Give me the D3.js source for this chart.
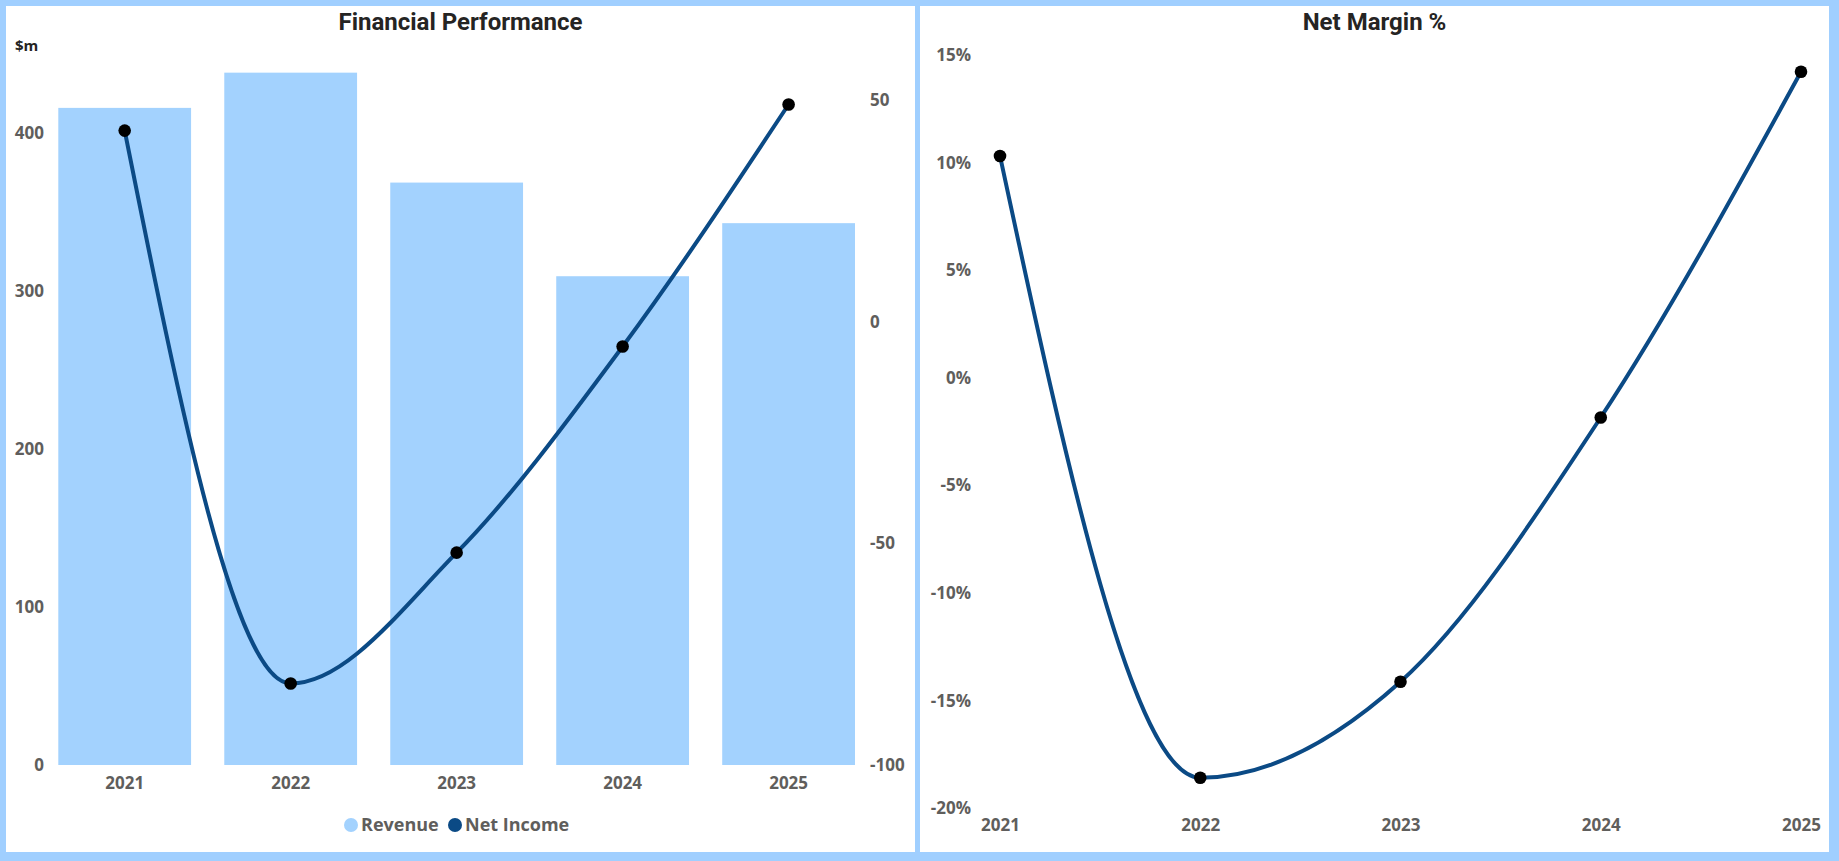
<!DOCTYPE html>
<html><head><meta charset="utf-8">
<script src="https://cdn.jsdelivr.net/npm/d3@7"></script>
<style>body{margin:0;background:#A0CFFF;} svg{display:block}</style>
</head><body><svg id="c" width="1839" height="861"></svg>
<script>
const years = ["2021", "2022", "2023", "2024", "2025"];
const revenue = [416.1, 438.4, 368.8, 309.5, 343.1];
const netIncome = [43.1, -81.6, -52.1, -5.6, 49.0];
const netMargin = [10.31, -18.58, -14.12, -1.84, 14.22];
const revenueTicks = [0, 100, 200, 300, 400];
const incomeTicks = [-100, -50, 0, 50];
const marginTicks = [-20, -15, -10, -5, 0, 5, 10, 15];
const legendNames = ["Revenue", "Net Income"];
const titles = ["Financial Performance", "Net Margin %"];

const barColor = "#A3D2FE", lineColor = "#0B4A85", dotColor = "#000000";
const tickColor = "#5F5E5C", titleColor = "#252423", frameColor = "#A0CFFF";
const tickFont = "'Open Sans', sans-serif";
const hyphen = v => String(v).replace("\u2212", "-");

const svg = d3.select("#c");
svg.append("rect").attr("width", 1839).attr("height", 861).attr("fill", frameColor);
svg.append("rect").attr("x", 6).attr("y", 6).attr("width", 909).attr("height", 846).attr("fill", "#fff");
svg.append("rect").attr("x", 920).attr("y", 6).attr("width", 909).attr("height", 846).attr("fill", "#fff");

function styleTicks(sel) {
  sel.select(".domain").remove();
  sel.selectAll(".tick line").remove();
  sel.selectAll(".tick text").attr("fill", tickColor).attr("font-family", tickFont)
    .attr("font-weight", 700).attr("font-size", 17);
}

// ---------- Left chart ----------
const L = svg.append("g");
L.append("text").text(titles[0]).attr("x", 460.5).attr("y", 30).attr("text-anchor", "middle")
  .attr("font-family", "Roboto, sans-serif").attr("font-weight", 700).attr("font-size", 24).attr("fill", titleColor);
L.append("text").text("$m").attr("x", 15).attr("y", 51)
  .attr("font-family", tickFont).attr("font-weight", 700).attr("font-size", 15).attr("fill", titleColor);

const xb = d3.scaleBand().domain(years).range([41.7, 871.6]).paddingInner(0.2).paddingOuter(0.1);
const yL = d3.scaleLinear().domain([0, 400]).range([765, 133.3]);
const yR = d3.scaleLinear().domain([-100, 50]).range([765, 100]);

L.append("g").selectAll("rect").data(years).join("rect")
  .attr("x", d => xb(d)).attr("width", xb.bandwidth())
  .attr("y", (d, i) => yL(revenue[i])).attr("height", (d, i) => yL(0) - yL(revenue[i]))
  .attr("fill", barColor);

const axL = L.append("g").attr("transform", "translate(44,0)")
  .call(d3.axisLeft(yL).tickValues(revenueTicks).tickSize(0).tickPadding(0).tickFormat(d => hyphen(d)));
styleTicks(axL);
const axR = L.append("g").attr("transform", "translate(870,0)")
  .call(d3.axisRight(yR).tickValues(incomeTicks).tickSize(0).tickPadding(0).tickFormat(d => hyphen(d)));
styleTicks(axR);
const axB = L.append("g").attr("transform", "translate(0,777)")
  .call(d3.axisBottom(xb).tickSize(0).tickPadding(0));
styleTicks(axB);
axB.selectAll(".tick text").attr("dy", "0.35em").attr("y", 6);

const cx = d => xb(d) + xb.bandwidth() / 2;
const lineL = d3.line().x((d, i) => cx(years[i])).y(d => yR(d)).curve(d3.curveMonotoneX);
L.append("path").datum(netIncome).attr("d", lineL).attr("fill", "none")
  .attr("stroke", lineColor).attr("stroke-width", 4);
L.append("g").selectAll("circle").data(netIncome).join("circle")
  .attr("cx", (d, i) => cx(years[i])).attr("cy", d => yR(d)).attr("r", 6.3).attr("fill", dotColor);

// legend
const legColors = [barColor, lineColor];
const leg = L.append("g");
const legX = [351, 455];
legendNames.forEach((n, i) => {
  leg.append("circle").attr("cx", legX[i]).attr("cy", 825).attr("r", 7).attr("fill", legColors[i]);
  leg.append("text").text(n).attr("x", legX[i] + 10).attr("y", 825).attr("dy", "0.35em")
    .attr("font-family", tickFont).attr("font-weight", 700).attr("font-size", 18).attr("fill", tickColor);
});

// ---------- Right chart ----------
const R = svg.append("g");
R.append("text").text(titles[1]).attr("x", 1374.5).attr("y", 30).attr("text-anchor", "middle")
  .attr("font-family", "Roboto, sans-serif").attr("font-weight", 700).attr("font-size", 24).attr("fill", titleColor);

const xp = d3.scalePoint().domain(years).range([1000, 1801]);
const yM = d3.scaleLinear().domain([-20, 15]).range([808.3, 55]);

const axM = R.append("g").attr("transform", "translate(971,0)")
  .call(d3.axisLeft(yM).tickValues(marginTicks).tickSize(0).tickPadding(0).tickFormat(d => hyphen(d) + "%"));
styleTicks(axM);
const axMB = R.append("g").attr("transform", "translate(0,819)")
  .call(d3.axisBottom(xp).tickSize(0).tickPadding(0));
styleTicks(axMB);
axMB.selectAll(".tick text").attr("dy", "0.35em").attr("y", 6);

const lineM = d3.line().x((d, i) => xp(years[i])).y(d => yM(d)).curve(d3.curveMonotoneX);
R.append("path").datum(netMargin).attr("d", lineM).attr("fill", "none")
  .attr("stroke", lineColor).attr("stroke-width", 4);
R.append("g").selectAll("circle").data(netMargin).join("circle")
  .attr("cx", (d, i) => xp(years[i])).attr("cy", d => yM(d)).attr("r", 6.3).attr("fill", dotColor);
</script></body></html>
